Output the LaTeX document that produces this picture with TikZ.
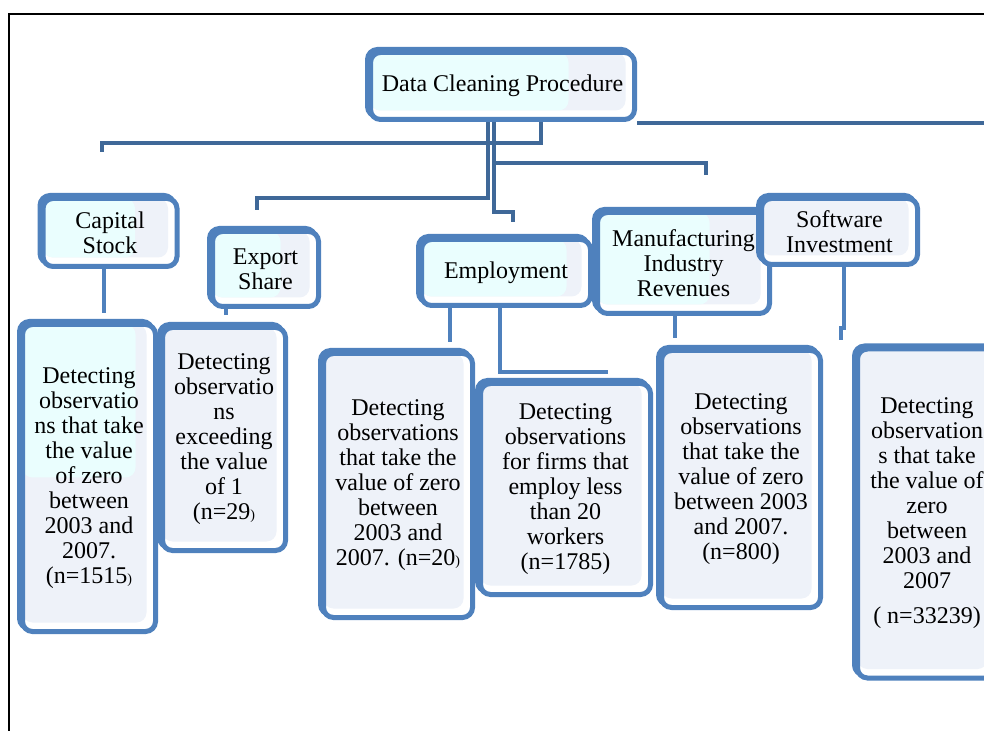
\documentclass[tikz,border=0pt]{standalone}
\usepackage{fontspec}
\setmainfont{Liberation Serif}
\usepackage{tikz}
\usetikzlibrary{calc}
\usetikzlibrary{shadows}
\usetikzlibrary{backgrounds}
\definecolor{boxblue}{HTML}{4F81BD}
\definecolor{linkdark}{HTML}{3F6898}
\definecolor{greyfill}{HTML}{EEF2F9}
\definecolor{cyanfill}{HTML}{EAFEFE}
\begin{document}
\begin{tikzpicture}[
    x=0.5pt, y=-0.5pt,
    panel/.style={
        rectangle, draw=boxblue, rounded corners=5pt,
        line width=2.5pt, fill=white,
        inner sep=0pt, align=center,
        font=\fontsize{12}{12.5}\selectfont,
        general shadow={draw=boxblue, fill=boxblue, line width=2.5pt,
            shadow xshift=-1.5pt, shadow yshift=1.5pt},
        path picture={
            \fill[greyfill] (path picture bounding box.north west)
                rectangle ([shift={(-4.5pt,4.5pt)}]path picture bounding box.south east);
        }
    },
    tint/.style 2 args={
        path picture={
            \fill[greyfill] (path picture bounding box.north west)
                rectangle ([shift={(-4.5pt,4.5pt)}]path picture bounding box.south east);
            \fill[cyanfill] (path picture bounding box.north west)
                rectangle ([shift={(-#1,#2)}]path picture bounding box.south east);
        }
    },
    link/.style={draw=linkdark, line width=2.2pt},
    sublink/.style={draw=boxblue, line width=2pt}
]
\useasboundingbox (0,0) rectangle (984,731);
\clip (0,0) rectangle (984,731);
\draw[line width=0.75pt] (984,14) -- (9,14) -- (9,731);

\node[panel, tint={33pt}{4.5pt}, minimum width=132pt, minimum height=33.5pt] (root) at (502.5,86) {Data Cleaning Procedure};

\node[panel, tint={21pt}{4.5pt}, minimum width=67pt, minimum height=34pt] (capital) at (110,232.5) {Capital\\Stock};
\node[panel, tint={19pt}{4.5pt}, minimum width=53pt, minimum height=37.5pt] (export) at (265.5,269) {Export\\Share};
\node[panel, tint={12pt}{4.5pt}, minimum width=84.5pt, minimum height=33pt] (employ) at (506,272.5) {Employment};
\node[panel, tint={30pt}{4.5pt}, minimum width=86pt, minimum height=50.5pt] (manuf) at (683.5,263) {Manufacturing\\Industry\\Revenues};
\node[panel, minimum width=78pt, minimum height=33pt] (soft) at (839.5,231.5) {Software\\Investment};

\node[panel, tint={10pt}{77pt}, minimum width=66.5pt, minimum height=153.5pt] (capdetail) at (89,478) {Detecting\\observatio\\ns that take\\the value\\of zero\\between\\2003 and\\2007.\\(n=1515{\scriptsize)}};
\node[panel, minimum width=61.5pt, minimum height=111.5pt] (expdetail) at (224,439) {Detecting\\observatio\\ns\\exceeding\\the value\\of 1\\(n=29{\scriptsize)}};
\node[panel, minimum width=74.5pt, minimum height=132pt] (zerodetail) at (398,485.5) {Detecting\\observations\\that take the\\value of zero\\between\\2003 and\\2007. (n=20{\scriptsize)}};
\node[panel, minimum width=85pt, minimum height=105.5pt] (firmdetail) at (565.5,489) {Detecting\\observations\\for firms that\\employ less\\than 20\\workers\\(n=1785)};
\node[panel, minimum width=79.5pt, minimum height=128.5pt] (mandetail) at (741,479) {Detecting\\observations\\that take the\\value of zero\\between 2003\\and 2007.\\(n=800)};
\node[panel, minimum width=69.5pt, minimum height=164.5pt] (softdetail) at (927,513.5) {Detecting\\observation\\s that take\\the value of\\zero\\between\\2003 and\\2007\\[5pt]( n=33239)};

\coordinate (capend) at (102,152);
\coordinate (expend) at (257,210);
\coordinate (empend) at (513,222);
\coordinate (manend) at (706,175);
\coordinate (softend) at (984,123);
\coordinate (capdown) at (104,313);
\coordinate (expdown) at (226,315);
\coordinate (zerodown) at (450,342);
\coordinate (firmdown) at (608,372);
\coordinate (mandown) at (675,338);
\coordinate (softdown) at (841,340);

\begin{scope}[on background layer]
\draw[link] (root.south -| 541,0) -- (541,143) -| (capend);
\draw[link] (root.south -| 488,0) -- (488,198) -| (expend);
\draw[link] (root.south -| 494,0) -- (494,212) -| (empend);
\draw[link] (root.south -| 494,0) -- (494,163) -| (manend);
\draw[link] (root.south east |- 0,123) -- (softend);
\draw[sublink] (capital.south -| 104,0) -- (capdown);
\draw[sublink] (export.south -| 226,0) -- (expdown);
\draw[sublink] (employ.south -| 450,0) -- (zerodown);
\draw[sublink] (employ.south -| 500,0) |- (firmdown);
\draw[sublink] (manuf.south -| 675,0) -- (mandown);
\draw[sublink] (soft.south -| 844,0) -- (844,328) -| (softdown);
\end{scope}
\end{tikzpicture}
\end{document}
